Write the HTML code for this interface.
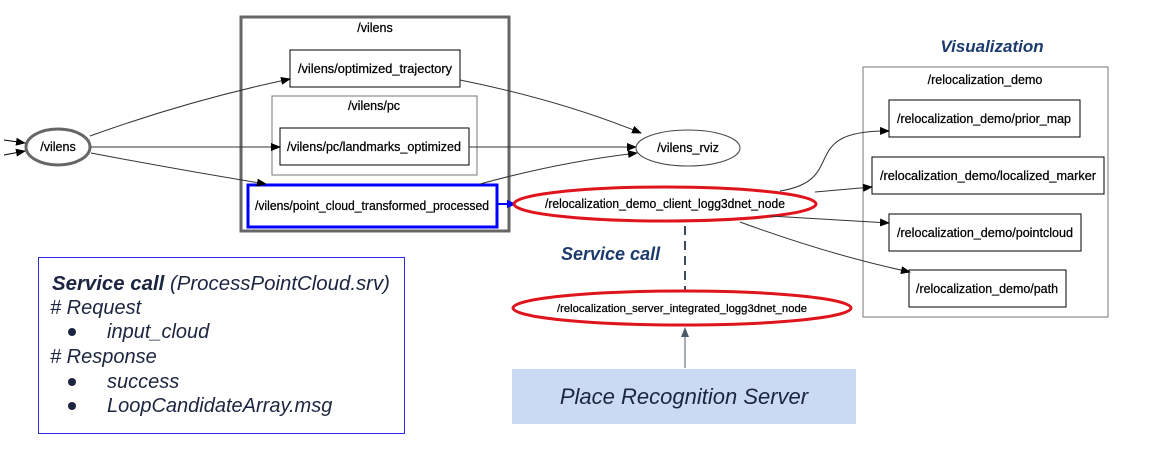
<!DOCTYPE html>
<html><head><meta charset="utf-8"><style>
html,body{margin:0;padding:0;background:#fff;width:1152px;height:464px;overflow:hidden}
svg{display:block}
.n{font-family:"Liberation Sans",sans-serif;font-size:12.5px;fill:#000;text-anchor:middle;stroke:#000;stroke-width:0.25}
.s{font-family:"Liberation Sans",sans-serif;font-size:20px;font-style:italic;fill:#1c2540}
</style></head><body>
<svg width="1152" height="464" viewBox="0 0 1152 464" xmlns="http://www.w3.org/2000/svg">
<defs>
<marker id="a" markerWidth="10" markerHeight="8" refX="9" refY="4" orient="auto" markerUnits="userSpaceOnUse"><path d="M0,0 L10,4 L0,8 z" fill="#000"/></marker>
<marker id="b" markerWidth="10" markerHeight="8" refX="9" refY="4" orient="auto" markerUnits="userSpaceOnUse"><path d="M0,0 L10,4 L0,8 z" fill="#00f"/></marker>
<marker id="g" markerWidth="10" markerHeight="8" refX="9" refY="4" orient="auto" markerUnits="userSpaceOnUse"><path d="M0,0 L10,4 L0,8 z" fill="#4a5a6a"/></marker>
</defs>
<rect x="241" y="17" width="268" height="214" fill="none" stroke="#666" stroke-width="3"/>
<text class="n" x="375" y="32">/vilens</text>
<rect x="290" y="50" width="170" height="37" fill="#fff" stroke="#000"/>
<text class="n" x="375" y="73" textLength="154" lengthAdjust="spacingAndGlyphs">/vilens/optimized_trajectory</text>
<rect x="272" y="96" width="205" height="79" fill="none" stroke="#777"/>
<text class="n" x="374" y="110">/vilens/pc</text>
<rect x="280" y="128" width="189" height="37" fill="#fff" stroke="#000"/>
<text class="n" x="374" y="151" textLength="174" lengthAdjust="spacingAndGlyphs">/vilens/pc/landmarks_optimized</text>
<rect x="248" y="185" width="249" height="42" fill="#fff" stroke="#00f" stroke-width="3"/>
<text class="n" x="372" y="210" textLength="234" lengthAdjust="spacingAndGlyphs">/vilens/point_cloud_transformed_processed</text>
<ellipse cx="58" cy="147" rx="32" ry="18" fill="#fff" stroke="#666" stroke-width="3"/>
<text class="n" x="58" y="151">/vilens</text>
<line x1="4" y1="140" x2="25" y2="143" stroke="#000" marker-end="url(#a)"/>
<line x1="4" y1="155" x2="25" y2="151" stroke="#000" marker-end="url(#a)"/>
<path d="M90,136 Q190,100 290,79" fill="none" stroke="#333" marker-end="url(#a)"/>
<line x1="91" y1="147" x2="280" y2="147" stroke="#333" marker-end="url(#a)"/>
<path d="M91,153 Q180,170 266,184" fill="none" stroke="#333" marker-end="url(#a)"/>
<path d="M460,80 Q560,100 641,133" fill="none" stroke="#333" marker-end="url(#a)"/>
<line x1="469" y1="147" x2="636" y2="147" stroke="#333" marker-end="url(#a)"/>
<path d="M480,184 Q560,162 637,153" fill="none" stroke="#333" marker-end="url(#a)"/>
<ellipse cx="688" cy="148" rx="52" ry="18" fill="#fff" stroke="#444"/>
<text class="n" x="688" y="152">/vilens_rviz</text>
<line x1="498" y1="204" x2="516" y2="204" stroke="#00f" stroke-width="2" marker-end="url(#b)"/>
<ellipse cx="665" cy="204" rx="151" ry="17" fill="#fff" stroke="#e0141c" stroke-width="3"/>
<text class="n" x="665" y="208" textLength="240" lengthAdjust="spacingAndGlyphs">/relocalization_demo_client_logg3dnet_node</text>
<line x1="685" y1="226" x2="685" y2="290" stroke="#3c4a5c" stroke-width="2" stroke-dasharray="9,6"/>
<text x="561" y="260" style="font-family:'Liberation Sans',sans-serif;font-size:18px;font-weight:bold;font-style:italic;fill:#1c3a6e">Service call</text>
<ellipse cx="682" cy="308" rx="169" ry="17" fill="#fff" stroke="#e0141c" stroke-width="3"/>
<text class="n" x="682" y="312" style="font-size:11px" textLength="250" lengthAdjust="spacingAndGlyphs">/relocalization_server_integrated_logg3dnet_node</text>
<line x1="685" y1="368" x2="685" y2="328" stroke="#4a5a6a" marker-end="url(#g)"/>
<rect x="512" y="369" width="344" height="55" fill="#c9daf2"/>
<text x="684" y="404" text-anchor="middle" style="font-family:'Liberation Sans',sans-serif;font-size:22px;font-style:italic;fill:#1c2540">Place Recognition Server</text>
<text x="992" y="52" text-anchor="middle" style="font-family:'Liberation Sans',sans-serif;font-size:17px;font-weight:bold;font-style:italic;fill:#1c3a6e">Visualization</text>
<rect x="863" y="67" width="245" height="250" fill="#fff" stroke="#777"/>
<text class="n" x="985" y="84">/relocalization_demo</text>
<rect x="889" y="100" width="191" height="37" fill="#fff" stroke="#000"/>
<text class="n" x="984" y="123" textLength="174" lengthAdjust="spacingAndGlyphs">/relocalization_demo/prior_map</text>
<rect x="872" y="157" width="232" height="37" fill="#fff" stroke="#000"/>
<text class="n" x="988" y="180" textLength="216" lengthAdjust="spacingAndGlyphs">/relocalization_demo/localized_marker</text>
<rect x="889" y="214" width="192" height="37" fill="#fff" stroke="#000"/>
<text class="n" x="985" y="237" textLength="176" lengthAdjust="spacingAndGlyphs">/relocalization_demo/pointcloud</text>
<rect x="909" y="270" width="157" height="37" fill="#fff" stroke="#000"/>
<text class="n" x="987" y="293" textLength="142" lengthAdjust="spacingAndGlyphs">/relocalization_demo/path</text>
<path d="M780,191 C850,180 795,130 889,131" fill="none" stroke="#333" marker-end="url(#a)"/>
<path d="M815,192 L872,187" fill="none" stroke="#333" marker-end="url(#a)"/>
<path d="M770,216 L889,223" fill="none" stroke="#333" marker-end="url(#a)"/>
<path d="M740,222 Q830,255 910,272" fill="none" stroke="#333" marker-end="url(#a)"/>
<rect x="38.5" y="257.5" width="366" height="176" fill="#fff" stroke="#2a2ae0" stroke-width="1"/>
<text class="s" x="52" y="290" textLength="338" lengthAdjust="spacingAndGlyphs"><tspan font-weight="bold">Service call</tspan> (ProcessPointCloud.srv)</text>
<text class="s" x="50" y="314"># Request</text>
<circle cx="72" cy="332" r="4" fill="#1c2540"/>
<text class="s" x="107" y="338">input_cloud</text>
<text class="s" x="50" y="363"># Response</text>
<circle cx="72" cy="382" r="4" fill="#1c2540"/>
<text class="s" x="107" y="388">success</text>
<circle cx="72" cy="406" r="4" fill="#1c2540"/>
<text class="s" x="107" y="412">LoopCandidateArray.msg</text>
</svg>
</body></html>
